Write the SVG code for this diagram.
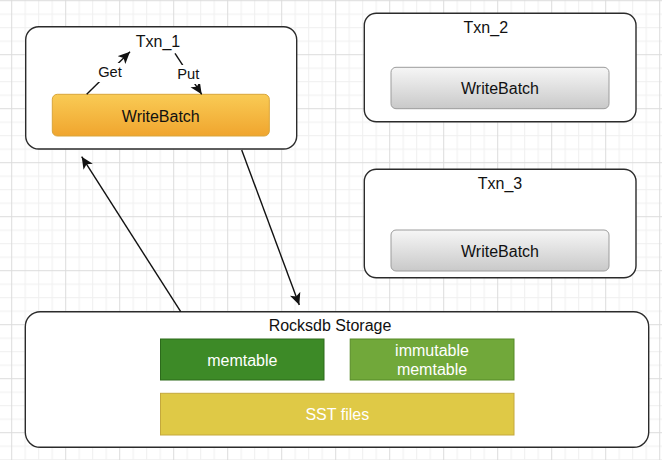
<svg xmlns="http://www.w3.org/2000/svg" width="662" height="460" viewBox="0 0 662 460">
  <style>
    .box { fill: #ffffff; stroke: #2b2b2b; stroke-width: 1.4; }
    .t { font-family: "Liberation Sans", Arial, sans-serif; font-size: 16px; text-anchor: middle; fill: #111111; }
    .lbl { font-family: "Liberation Sans", Arial, sans-serif; font-size: 14.7px; text-anchor: middle; fill: #111111; }
    .w { fill: #ffffff; }
    .edge { stroke: #111111; stroke-width: 1.4; fill: none; }
  </style>
  <defs>
    <pattern id="grid" patternUnits="userSpaceOnUse" x="11.2" y="0.2" width="54" height="54">
      <path d="M14,0 V54 M27.5,0 V54 M41,0 V54 M0,14 H54 M0,27.5 H54 M0,41 H54" stroke="#efefef" stroke-width="1" fill="none"/>
      <path d="M0.5,0 V54 M0,0.5 H54" stroke="#dcdcdc" stroke-width="1" fill="none"/>
    </pattern>
    <linearGradient id="orange" x1="0" y1="0" x2="0" y2="1">
      <stop offset="0" stop-color="#f9cb55"/>
      <stop offset="1" stop-color="#f0a52e"/>
    </linearGradient>
    <linearGradient id="gray" x1="0" y1="0" x2="0" y2="1">
      <stop offset="0" stop-color="#f6f6f6"/>
      <stop offset="1" stop-color="#c9c9c9"/>
    </linearGradient>
    <marker id="arr" markerUnits="userSpaceOnUse" markerWidth="14" markerHeight="12" viewBox="0 0 14 12" refX="12" refY="6" orient="auto">
      <path d="M0,0.5 L12,6 L0,11.5 L3,6 Z" fill="#111111"/>
    </marker>
  </defs>
  <rect x="0" y="0" width="662" height="460" fill="#ffffff"/>
  <rect x="0" y="0" width="662" height="460" fill="url(#grid)"/>

  <g id="txn1">
    <rect class="box" x="25.7" y="26.7" width="271" height="122.3" rx="13" ry="13"/>
    <text class="t" x="158" y="46.7">Txn_1</text>
    <rect x="52.3" y="94.3" width="217" height="41.7" rx="5" ry="5" fill="url(#orange)" stroke="#d9a53a" stroke-width="1"/>
    <text class="t" x="160.8" y="121.5">WriteBatch</text>
  </g>

  <g id="txn2">
    <rect class="box" x="364.3" y="13.3" width="271.7" height="108.4" rx="12" ry="12"/>
    <text class="t" x="485.8" y="33.3">Txn_2</text>
    <rect x="391" y="67.3" width="218" height="41.4" rx="5" ry="5" fill="url(#gray)" stroke="#9c9c9c" stroke-width="1"/>
    <text class="t" x="500" y="94.3">WriteBatch</text>
  </g>

  <g id="txn3">
    <rect class="box" x="364.3" y="169.3" width="271.7" height="108.4" rx="12" ry="12"/>
    <text class="t" x="500" y="189.3">Txn_3</text>
    <rect x="391" y="230" width="218" height="41" rx="5" ry="5" fill="url(#gray)" stroke="#9c9c9c" stroke-width="1"/>
    <text class="t" x="500" y="256.7">WriteBatch</text>
  </g>

  <g id="rocksdb">
    <rect class="box" x="25.3" y="311.7" width="623.4" height="135.6" rx="15" ry="15"/>
    <text class="t" x="330" y="330.7">Rocksdb Storage</text>
  </g>
  <g id="memtable">
    <rect x="160.5" y="339" width="163.5" height="41" fill="#3d8a27" stroke="#2c6a1b" stroke-width="1"/>
    <text class="t" x="242.3" y="366" fill="#ffffff" style="fill:#ffffff">memtable</text>
  </g>
  <g id="immutable">
    <rect x="350.2" y="339" width="163.8" height="41" fill="#71a83a" stroke="#568a26" stroke-width="1"/>
    <text class="t" x="432" y="355.7" style="fill:#ffffff">immutable</text>
    <text class="t" x="432" y="375" style="fill:#ffffff">memtable</text>
  </g>
  <g id="sst">
    <rect x="160.5" y="393.3" width="353.5" height="41.7" fill="#dfc946" stroke="#c4a83c" stroke-width="1"/>
    <text class="t" x="337.3" y="420" style="fill:#ffffff">SST files</text>
  </g>

  <g id="connectors">
    <line class="edge" x1="86.7" y1="94.3" x2="130" y2="51.7" marker-end="url(#arr)"/>
    <rect class="w" x="96" y="63" width="28" height="19"/>
    <text class="lbl" x="110" y="77">Get</text>
    <line class="edge" x1="175" y1="53.3" x2="201.7" y2="94.3" marker-end="url(#arr)"/>
    <rect class="w" x="175" y="65" width="27" height="19"/>
    <text class="lbl" x="188.3" y="78.7">Put</text>
    <line class="edge" x1="180.7" y1="311.7" x2="81.7" y2="156.7" marker-end="url(#arr)"/>
    <line class="edge" x1="241.7" y1="150" x2="299.3" y2="305" marker-end="url(#arr)"/>
  </g>
</svg>
